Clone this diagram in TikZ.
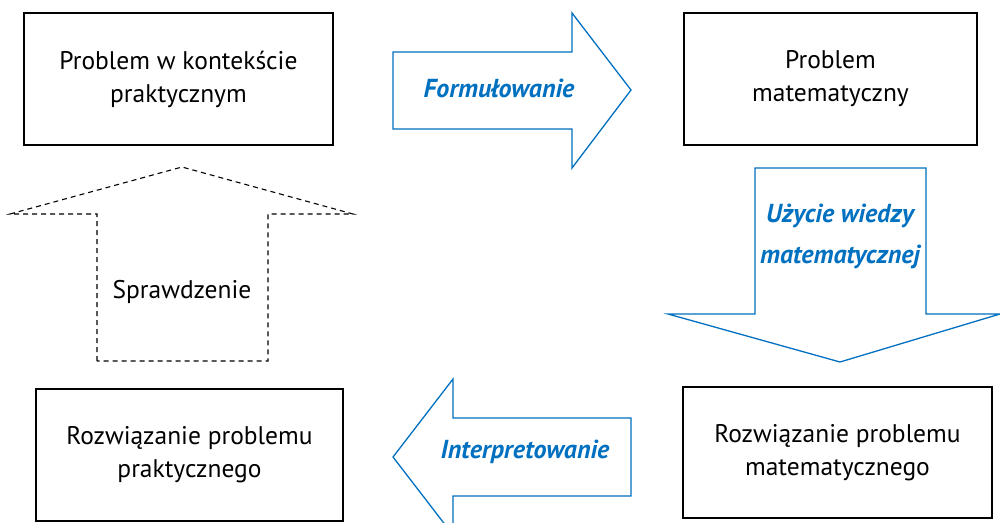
\documentclass[tikz,border=0pt]{standalone}
\usepackage{fontspec}
\setmainfont{PT Sans}
\definecolor{arrblue}{RGB}{0,112,192}
\begin{document}
\begin{tikzpicture}[x=1pt,y=-1pt,
  box/.style={draw=black,line width=1.3pt,minimum width=#1,align=center,inner sep=0pt,font=\fontsize{25.5}{33}\selectfont},
  blockarrow/.style={draw=arrblue,line width=1.3pt,line join=miter,fill=white},
  dasharrow/.style={draw=black,line width=1.1pt,dash pattern=on 5pt off 4pt},
  bluelabel/.style={text=arrblue,font=\fontsize{26}{41}\selectfont\bfseries\itshape,align=center,inner sep=0pt},
  plainlabel/.style={font=\fontsize{25.5}{33}\selectfont,inner sep=0pt}]
\useasboundingbox (0,0) rectangle (1000,522);
% boxes
\node[box=309pt,minimum height=132pt] (pkp) at (178.5,79) {Problem w kontekście\\praktycznym};
\node[box=293pt,minimum height=132pt] (pm) at (830.5,79) {Problem\\matematyczny};
\node[box=307pt,minimum height=132pt] (rpp) at (189.5,455) {Rozwiązanie problemu\\praktycznego};
\node[box=309pt,minimum height=131pt] (rpm) at (837.5,452.5) {Rozwiązanie problemu\\matematycznego};
% Formułowanie
\draw[blockarrow] (393,52) -- (572,52) -- (572,13) -- (631,90) -- (572,168) -- (572,129) -- (393,129) -- cycle;
\node[bluelabel] (form) at (499,88) {Formułowanie};
% Użycie wiedzy matematycznej
\draw[blockarrow] (755,168) -- (926,168) -- (926,314) -- (1000,314) -- (840,362) -- (668,314) -- (755,314) -- cycle;
\node[bluelabel] (uzyc) at (840,236) {Użycie wiedzy\\matematycznej};
% Interpretowanie
\draw[blockarrow] (631,418) -- (453,418) -- (453,379) -- (393,457) -- (453,535) -- (453,496) -- (631,496) -- cycle;
\node[bluelabel] (interp) at (525,452) {Interpretowanie};
% Sprawdzenie
\draw[dasharrow] (97,361) -- (97,214) -- (10,214) -- (182,167) -- (353,214) -- (268,214) -- (268,361) -- cycle;
\node[plainlabel] (spr) at (182,292) {Sprawdzenie};
\end{tikzpicture}
\end{document}
